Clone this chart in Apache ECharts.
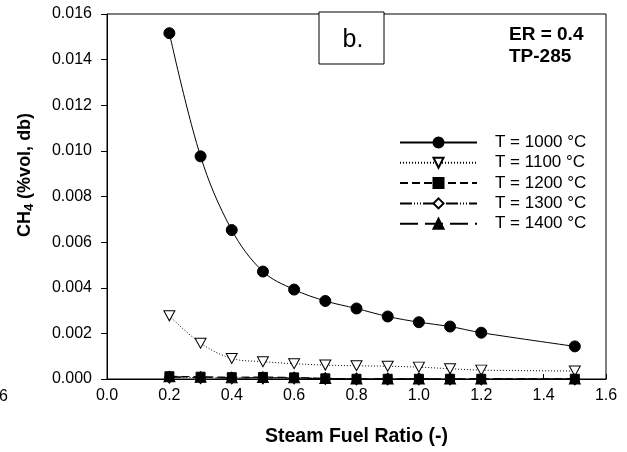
<!DOCTYPE html>
<html>
<head>
<meta charset="utf-8">
<script src="https://cdn.jsdelivr.net/npm/echarts@6/dist/echarts.min.js"></script>
<style>
  html, body { margin: 0; padding: 0; background: #fff; }
  #chart { width: 627px; height: 452px; }
</style>
</head>
<body>
<div id="chart"></div>
<script>
// Steam-to-fuel ratios (x values)
const steamFuelRatio = [0.2, 0.3, 0.4, 0.5, 0.6, 0.7, 0.8, 0.9, 1.0, 1.1, 1.2, 1.5];

// CH4 concentration (%vol, dry basis) at each gasification temperature
const ch4At1000 = [0.01516, 0.00976, 0.00653, 0.00471, 0.00392, 0.00342, 0.00309, 0.00274, 0.00249, 0.00230, 0.00203, 0.00143];
const ch4At1100 = [0.00277, 0.00157, 0.00090, 0.00076, 0.00067, 0.00061, 0.00058, 0.00056, 0.00052, 0.00045, 0.00039, 0.00035];
const ch4At1200 = [0.00012, 0.00010, 0.00008, 0.00009, 0.00007, 0.00003, 0.00001, 0.00001, 0.00001, 0.00001, 0.00001, 0.00001];
const ch4At1300 = [0.00008, 0.00006, 0.00004, 0.00005, 0.00004, 0.00002, 0.00000, 0.00000, 0.00000, 0.00000, 0.00000, 0.00000];
const ch4At1400 = [0.00010, 0.00008, 0.00005, 0.00006, 0.00005, 0.00002, 0.00000, 0.00000, 0.00000, 0.00000, 0.00000, 0.00000];

const seriesNames = ['T = 1000 °C', 'T = 1100 °C', 'T = 1200 °C', 'T = 1300 °C', 'T = 1400 °C'];

// Axis ranges and tick steps
const xMin = 0, xMax = 1.6, xStep = 0.2;
const yMin = 0, yMax = 0.016, yStep = 0.002;

const FONT = 'Liberation Sans, Arial, Helvetica, sans-serif';

function pairs(ys) {
  return steamFuelRatio.map((x, i) => [x, ys[i]]);
}

const invTriangle = 'path://M0,0 L10,0 L5,9 Z';

const chart = echarts.init(document.getElementById('chart'), null, { renderer: 'canvas' });

function lineSeries(name, values, opts) {
  return Object.assign({
    name: name,
    type: 'line',
    data: pairs(values),
    symbolSize: 10,
    lineStyle: { color: '#000', width: 1 },
    itemStyle: { color: '#000', borderColor: '#000', borderWidth: 1 },
    emphasis: { disabled: true },
    animation: false
  }, opts);
}

chart.setOption({
  backgroundColor: '#fff',
  animation: false,
  grid: { left: 107, right: 21, top: 14, bottom: 72, show: true, borderColor: '#000', borderWidth: 1, backgroundColor: 'transparent' },
  xAxis: {
    type: 'value',
    min: xMin, max: xMax, interval: xStep,
    axisLine: { lineStyle: { color: '#000', width: 1 } },
    axisTick: { inside: true, length: 5, lineStyle: { color: '#000' } },
    axisLabel: { color: '#000', fontSize: 16, fontFamily: FONT, margin: 9,
      formatter: v => v.toFixed(1) },
    splitLine: { show: false },
    name: 'Steam Fuel Ratio (-)',
    nameLocation: 'middle',
    nameGap: 48,
    nameTextStyle: { color: '#000', fontSize: 19.5, fontWeight: 'bold', fontFamily: FONT }
  },
  yAxis: {
    type: 'value',
    min: yMin, max: yMax, interval: yStep,
    axisLine: { show: true, lineStyle: { color: '#000', width: 1 } },
    axisTick: { show: true, inside: false, length: 6, lineStyle: { color: '#000' } },
    axisLabel: { color: '#000', fontSize: 16, fontFamily: FONT, margin: 15,
      formatter: v => v.toFixed(3) },
    splitLine: { show: false }
  },
  legend: {
    orient: 'vertical',
    left: 399,
    top: 134,
    padding: 0,
    itemWidth: 77,
    itemHeight: 12.5,
    itemGap: 3.3,
    data: seriesNames,
    selectedMode: false,
    textStyle: { color: '#000', fontSize: 17, fontFamily: FONT, lineHeight: 12.5, padding: [0, 0, 0, 13] }
  },
  graphic: [
    {
      type: 'rect',
      shape: { x: 319, y: 12, width: 65, height: 52 },
      style: { fill: '#fff', stroke: '#000', lineWidth: 1 },
      z: 100
    },
    {
      type: 'text',
      x: 353, y: 40,
      style: { text: 'b.', font: '25px ' + FONT, fill: '#000', align: 'center', verticalAlign: 'middle' },
      z: 101
    },
    {
      type: 'text',
      x: 509, y: 35,
      style: { text: 'ER = 0.4', font: 'bold 19px ' + FONT, fill: '#000', align: 'left', verticalAlign: 'middle' },
      z: 101
    },
    {
      type: 'text',
      x: 509, y: 57,
      style: { text: 'TP-285', font: 'bold 19px ' + FONT, fill: '#000', align: 'left', verticalAlign: 'middle' },
      z: 101
    },
    {
      type: 'text',
      x: 25, y: 175,
      rotation: Math.PI / 2,
      style: {
        text: '{m|CH}{s|4}{m| (%vol, db)}',
        align: 'center', verticalAlign: 'middle',
        rich: {
          m: { fontSize: 18, fontWeight: 'bold', fontFamily: FONT, fill: '#000' },
          s: { fontSize: 13, fontWeight: 'bold', fontFamily: FONT, fill: '#000', padding: [9, 0, 0, 0] }
        }
      },
      z: 101
    },
    {
      type: 'text',
      x: 8, y: 397,
      style: { text: '1.6', font: '16px ' + FONT, fill: '#000', align: 'right', verticalAlign: 'middle' }
    }
  ],
  series: [
    lineSeries(seriesNames[0], ch4At1000, {
      symbol: 'circle', symbolSize: 11, smooth: 0.35,
      lineStyle: { color: '#000', width: 1, type: 'solid' },
      z: 6
    }),
    lineSeries(seriesNames[1], ch4At1100, {
      symbol: invTriangle, symbolSize: [11, 10], smooth: 0.35,
      lineStyle: { color: '#000', width: 1, type: [1, 2] },
      itemStyle: { color: '#fff', borderColor: '#000', borderWidth: 1 },
      z: 5
    }),
    lineSeries(seriesNames[2], ch4At1200, {
      symbol: 'rect', symbolSize: 9,
      lineStyle: { color: '#000', width: 1, type: [8, 4] },
      z: 4
    }),
    lineSeries(seriesNames[3], ch4At1300, {
      symbol: 'diamond', symbolSize: [10, 12],
      lineStyle: { color: '#000', width: 1, type: [12, 2, 1, 2, 1, 2, 1, 2] },
      itemStyle: { color: '#fff', borderColor: '#000', borderWidth: 1 },
      z: 3
    }),
    lineSeries(seriesNames[4], ch4At1400, {
      symbol: 'triangle', symbolSize: [11, 10],
      lineStyle: { color: '#000', width: 1, type: [18, 7] },
      z: 7
    })
  ]
});
</script>
</body>
</html>
